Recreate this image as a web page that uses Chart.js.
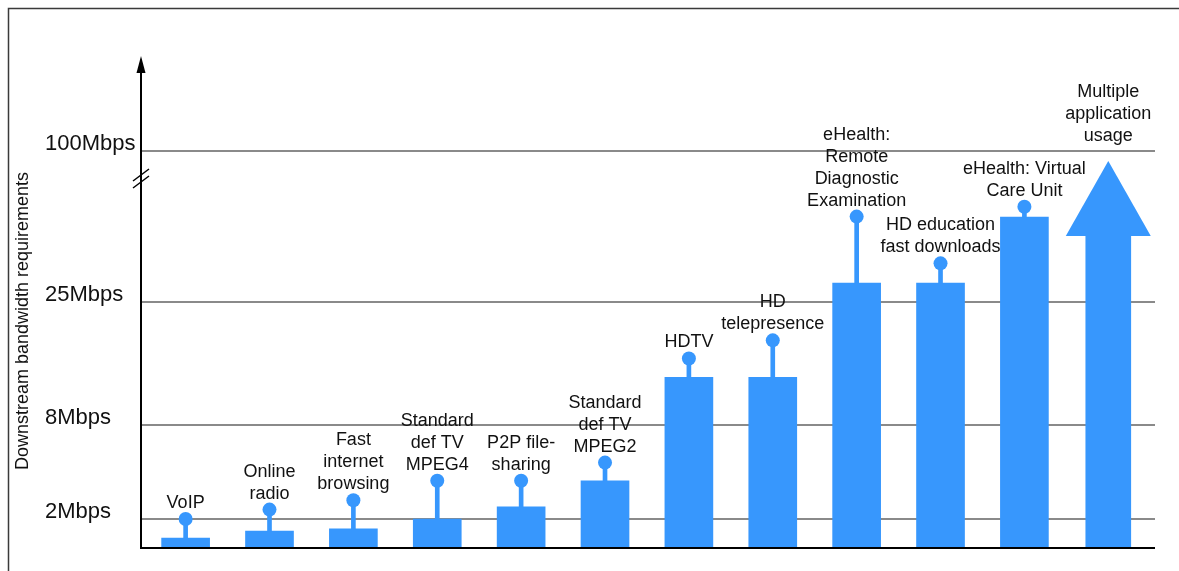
<!DOCTYPE html>
<html>
<head>
<meta charset="utf-8">
<script src="https://cdn.jsdelivr.net/npm/chart.js@4"></script>
<style>
  html, body { margin: 0; padding: 0; background: #ffffff; }
  #wrap { width: 1179px; height: 571px; }
</style>
</head>
<body>
<div id="wrap"><canvas id="c" width="1179" height="571"></canvas></div>
<script>
// ---------- data ----------
const categories = [
  ['VoIP'],
  ['Online', 'radio'],
  ['Fast', 'internet', 'browsing'],
  ['Standard', 'def TV', 'MPEG4'],
  ['P2P file-', 'sharing'],
  ['Standard', 'def TV', 'MPEG2'],
  ['HDTV'],
  ['HD', 'telepresence'],
  ['eHealth:', 'Remote', 'Diagnostic', 'Examination'],
  ['HD education', 'fast downloads'],
  ['eHealth: Virtual', 'Care Unit'],
  ['Multiple', 'application', 'usage']
];
// typical requirement (bar top), Mbps
const baseMbps = [0.64, 1.14, 1.29, 2.0, 2.77, 4.43, 14.6, 14.6, 34.4, 34.4, 67.2, null];
// peak requirement (dot on the stem), Mbps
const peakMbps = [2.0, 2.6, 3.2, 4.44, 4.44, 5.6, 17.2, 19.7, 67.4, 44.2, 72.3, null];
// "Multiple application usage" arrow: shaft top and tip, Mbps
const arrowShaftMbps = 57.8;
const arrowTipMbps = 95;
// y axis ticks
const tickValues = [2, 8, 25, 100];
const tickLabels = ['2Mbps', '8Mbps', '25Mbps', '100Mbps'];
const axisTitle = 'Downstream bandwidth requirements';

// ---------- broken (piecewise) axis ----------
const KNOT_VALUES = [0, 2, 8, 25, 100, 150];
const KNOT_FRACTIONS = [0, 0.05714, 0.2490, 0.5, 0.8082, 1];

class BrokenLinearScale extends Chart.LinearScale {
  determineDataLimits() {
    this.min = KNOT_VALUES[0];
    this.max = KNOT_VALUES[KNOT_VALUES.length - 1];
  }
  buildTicks() {
    return tickValues.map(v => ({ value: v }));
  }
  _frac(value) {
    const k = KNOT_VALUES, f = KNOT_FRACTIONS;
    if (value <= k[0]) return f[0];
    for (let i = 1; i < k.length; i++) {
      if (value <= k[i]) {
        return f[i - 1] + (value - k[i - 1]) / (k[i] - k[i - 1]) * (f[i] - f[i - 1]);
      }
    }
    const n = k.length - 1;
    return f[n] + (value - k[n]) / (k[n] - k[n - 1]) * (f[n] - f[n - 1]);
  }
  getPixelForValue(value) {
    return this.bottom - this._frac(value) * (this.bottom - this.top);
  }
  getValueForPixel(pixel) {
    const fr = (this.bottom - pixel) / (this.bottom - this.top);
    const k = KNOT_VALUES, f = KNOT_FRACTIONS;
    for (let i = 1; i < f.length; i++) {
      if (fr <= f[i]) return k[i - 1] + (fr - f[i - 1]) / (f[i] - f[i - 1]) * (k[i] - k[i - 1]);
    }
    return k[k.length - 1];
  }
}
BrokenLinearScale.id = 'brokenLinear';
BrokenLinearScale.defaults = Chart.LinearScale.defaults;
Chart.register(BrokenLinearScale);

// ---------- styles ----------
const BLUE = '#3797fd';
const FONT = '"Liberation Sans", Arial, sans-serif';

const n = categories.length;
const pts = (arr) => arr.map((v, i) => ({ x: i, y: v }));
const stemData = baseMbps.map((b, i) => ({ x: i, y: (b == null || peakMbps[i] == null) ? null : [b, peakMbps[i]] }));
const arrowData = categories.map((_, i) => ({ x: i, y: i === n - 1 ? arrowShaftMbps : null }));

const decorPlugin = {
  id: 'decor',
  afterDatasetsDraw(chart) {
    const ctx = chart.ctx;
    const xs = chart.scales.x, ys = chart.scales.y;
    ctx.save();
    // arrow head for "Multiple application usage"
    const ax = xs.getPixelForValue(n - 1);
    const baseY = ys.getPixelForValue(arrowShaftMbps);
    const tipY = ys.getPixelForValue(arrowTipMbps);
    ctx.fillStyle = BLUE;
    ctx.beginPath();
    ctx.moveTo(ax - 42.5, baseY);
    ctx.lineTo(ax + 42.5, baseY);
    ctx.lineTo(ax, tipY);
    ctx.closePath();
    ctx.fill();

    // category labels
    ctx.fillStyle = '#111';
    ctx.font = '18px ' + FONT;
    ctx.textAlign = 'center';
    ctx.textBaseline = 'alphabetic';
    const lh = 22;
    categories.forEach((lines, i) => {
      const x = xs.getPixelForValue(i);
      let lastBase;
      if (peakMbps[i] != null) lastBase = ys.getPixelForValue(peakMbps[i]) - 11;
      else lastBase = tipY - 20;
      lines.forEach((t, j) => {
        ctx.fillText(t, x, lastBase - (lines.length - 1 - j) * lh);
      });
    });
    ctx.restore();
  },
  afterDraw(chart) {
    const ctx = chart.ctx;
    const area = chart.chartArea;
    ctx.save();
    // frame
    ctx.strokeStyle = '#3a3a3a';
    ctx.lineWidth = 1.5;
    ctx.beginPath();
    ctx.moveTo(8.5, 571);
    ctx.lineTo(8.5, 8.5);
    ctx.lineTo(1179, 8.5);
    ctx.stroke();

    // axes
    const axX = area.left, axY = area.bottom + 1;
    ctx.strokeStyle = '#000';
    ctx.lineWidth = 2;
    ctx.beginPath();
    ctx.moveTo(axX, axY);
    ctx.lineTo(axX, 72);
    ctx.moveTo(axX - 1, axY);
    ctx.lineTo(area.right, axY);
    ctx.stroke();
    ctx.fillStyle = '#000';
    ctx.beginPath();
    ctx.moveTo(axX - 4.5, 73);
    ctx.lineTo(axX + 4.5, 73);
    ctx.lineTo(axX, 56);
    ctx.closePath();
    ctx.fill();

    // break marks
    ctx.lineWidth = 1.5;
    ctx.beginPath();
    ctx.moveTo(axX - 8, 181); ctx.lineTo(axX + 8, 169);
    ctx.moveTo(axX - 8, 188); ctx.lineTo(axX + 8, 176);
    ctx.stroke();

    // axis title
    ctx.fillStyle = '#111';
    ctx.font = '18px ' + FONT;
    ctx.textAlign = 'center';
    ctx.textBaseline = 'middle';
    ctx.translate(23, 321);
    ctx.rotate(-Math.PI / 2);
    ctx.fillText(axisTitle, 0, 0);
    ctx.restore();
  }
};

new Chart(document.getElementById('c'), {
  data: {
    datasets: [
      {
        type: 'line',
        label: 'Peak',
        data: pts(peakMbps),
        showLine: false,
        pointRadius: 7,
        pointHoverRadius: 7,
        pointBackgroundColor: BLUE,
        pointBorderWidth: 0,
        order: 0
      },
      {
        type: 'bar',
        label: 'Range',
        data: stemData,
        backgroundColor: BLUE,
        barThickness: 4,
        grouped: false,
        order: 1
      },
      {
        type: 'bar',
        label: 'Typical',
        data: pts(baseMbps),
        backgroundColor: BLUE,
        barThickness: 48,
        grouped: false,
        order: 2
      },
      {
        type: 'bar',
        label: 'Arrow',
        data: arrowData,
        backgroundColor: BLUE,
        barThickness: 45,
        grouped: false,
        order: 3
      }
    ]
  },
  options: {
    responsive: false,
    animation: false,
    devicePixelRatio: 1,
    layout: { padding: { left: 45, top: 57, right: 24, bottom: 24 } },
    plugins: { legend: { display: false }, tooltip: { enabled: false } },
    scales: {
      x: { type: 'linear', display: false, min: -0.532, max: 11.557, offset: false },
      y: {
        type: 'brokenLinear',
        position: 'left',
        border: { display: false },
        grid: { color: '#8a8a8a', lineWidth: 2, drawTicks: false },
        ticks: {
          crossAlign: 'far',
          labelOffset: -7,
          color: '#111',
          font: { family: FONT, size: 22 },
          callback: (v) => tickLabels[tickValues.indexOf(v)]
        },
        afterFit: (s) => { s.width = 96; }
      }
    }
  },
  plugins: [decorPlugin]
});
</script>
</body>
</html>
